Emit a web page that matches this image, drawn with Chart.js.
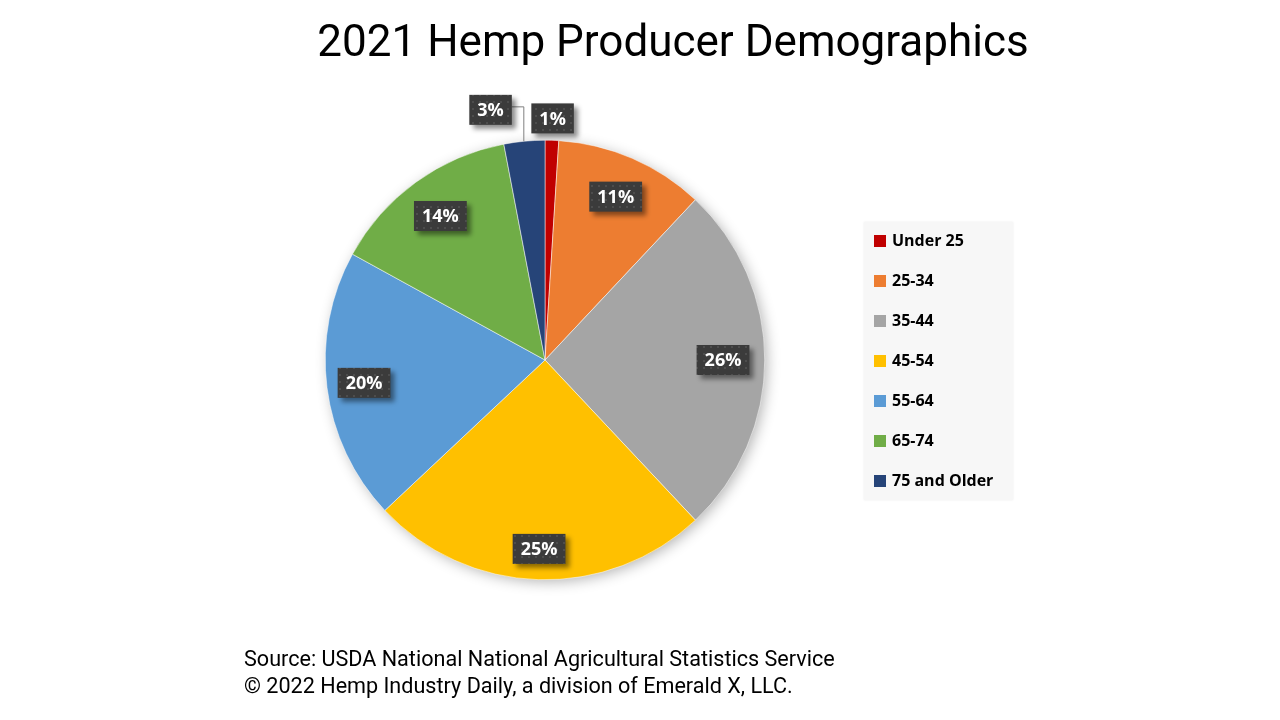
<!DOCTYPE html>
<html>
<head>
<meta charset="utf-8">
<script src="https://cdn.jsdelivr.net/npm/chart.js@4"></script>
<style>
  body { margin: 0; background: #fff; }
  #wrap { position: relative; width: 1280px; height: 720px; overflow: hidden; }
  #chart { position: absolute; left: 0; top: 0; }
  #title { position: absolute; left: 0; width: 1346px; top: 15px; text-align: center;
    font-family: Roboto, sans-serif; font-size: 44px; font-weight: 400; color: #000; }
  #legend { position: absolute; left: 864px; top: 222px; width: 149px; height: 278px;
    background: #f7f7f7; box-shadow: 0 0 2px rgba(0,0,0,0.08); }
  #legend div { position: absolute; left: 10px; height: 20px; line-height: 20px;
    font-family: "Open Sans", sans-serif; font-weight: 700; font-size: 16px; color: #000; }
  #legend span { display: inline-block; width: 12px; height: 12px; margin-right: 6px; vertical-align: -1px; }
  #source { position: absolute; left: 244px; top: 645px; font-family: Roboto, sans-serif;
    font-size: 21.6px; line-height: 27px; color: #000; }
</style>
</head>
<body>
<div id="wrap">
  <canvas id="chart" width="1280" height="720"></canvas>
  <div id="title">2021 Hemp Producer Demographics</div>
  <div id="legend"></div>
  <div id="source">Source: USDA National National Agricultural Statistics Service<br>© 2022 Hemp Industry Daily, a division of Emerald X, LLC.</div>
</div>
<script>
// chart data
const categories = ["Under 25", "25-34", "35-44", "45-54", "55-64", "65-74", "75 and Older"]
const shares = [1, 11, 26, 25, 20, 14, 3]
const sliceColors = ["#C00000", "#ED7D31", "#A5A5A5", "#FFC000", "#5B9BD5", "#70AD47", "#264478"]

// dotted dark fill for the label boxes
const dots = document.createElement("canvas")
dots.width = 7
dots.height = 7
const dctx = dots.getContext("2d")
dctx.fillStyle = "#3b3b3b"
dctx.fillRect(0, 0, 7, 7)
dctx.fillStyle = "#4d4d4d"
dctx.fillRect(3, 3, 2, 2)

// soft shadow behind the pie
const pieShadow = {
  id: "pieShadow",
  beforeDatasetsDraw(chart) {
    const arc = chart.getDatasetMeta(0).data[0]
    if (!arc) return
    const ctx = chart.ctx
    ctx.save()
    ctx.shadowColor = "rgba(0,0,0,0.3)"
    ctx.shadowBlur = 14
    ctx.shadowOffsetX = 3
    ctx.shadowOffsetY = 3
    ctx.fillStyle = "#ffffff"
    ctx.beginPath()
    ctx.arc(arc.x, arc.y, arc.outerRadius - 1, 0, Math.PI * 2)
    ctx.fill()
    ctx.restore()
  },
}

// percent boxes on the slices
const sliceLabels = {
  id: "sliceLabels",
  afterDatasetsDraw(chart) {
    const ctx = chart.ctx
    const meta = chart.getDatasetMeta(0)
    const radius = [1.1, 0.81, 0.81, 0.86, 0.83, 0.81, 1.165]
    const shift = [0, 0, 0, 0, 0, 0, -0.12]
    ctx.save()
    ctx.font = "bold 18px 'Open Sans', sans-serif"
    ctx.textAlign = "center"
    ctx.textBaseline = "middle"
    meta.data.forEach(function (arc, i) {
      const mid = (arc.startAngle + arc.endAngle) / 2 + shift[i]
      const r = arc.outerRadius * radius[i]
      const x = arc.x + Math.cos(mid) * r
      const y = arc.y + Math.sin(mid) * r
      const text = shares[i] + "%"
      const w = ctx.measureText(text).width + 16
      const h = 30
      if (i == shares.length - 1) {
        // leader line for the small slice
        const lx = x + w / 2 + 12
        const ly = arc.y - Math.sqrt(arc.outerRadius * arc.outerRadius - (lx - arc.x) * (lx - arc.x))
        ctx.strokeStyle = "#7f7f7f"
        ctx.lineWidth = 1
        ctx.beginPath()
        ctx.moveTo(x + w / 2, y - 3)
        ctx.lineTo(lx, y - 3)
        ctx.lineTo(lx, ly)
        ctx.stroke()
      }
      ctx.save()
      ctx.shadowColor = "rgba(0,0,0,0.45)"
      ctx.shadowBlur = 5
      ctx.shadowOffsetX = 4
      ctx.shadowOffsetY = 4
      ctx.fillStyle = ctx.createPattern(dots, "repeat")
      ctx.fillRect(x - w / 2, y - h / 2, w, h)
      ctx.restore()
      ctx.fillStyle = "#ffffff"
      ctx.fillText(text, x, y + 1)
    })
    ctx.restore()
  },
}

new Chart(document.getElementById("chart"), {
  type: "pie",
  data: {
    labels: categories,
    datasets: [
      {
        data: shares,
        backgroundColor: sliceColors,
        borderColor: "#ffffff",
        borderWidth: 0.5,
      },
    ],
  },
  options: {
    responsive: false,
    animation: false,
    layout: { padding: { left: 325, right: 515, top: 140, bottom: 140 } },
    plugins: {
      legend: { display: false },
      tooltip: { enabled: false },
    },
  },
  plugins: [pieShadow, sliceLabels],
})

// legend on the right
const legendBox = document.getElementById("legend")
categories.forEach(function (name, i) {
  const row = document.createElement("div")
  row.style.top = 8 + i * 40 + "px"
  row.innerHTML = '<span style="background:' + sliceColors[i] + '"></span>' + name
  legendBox.appendChild(row)
})
</script>
</body>
</html>
